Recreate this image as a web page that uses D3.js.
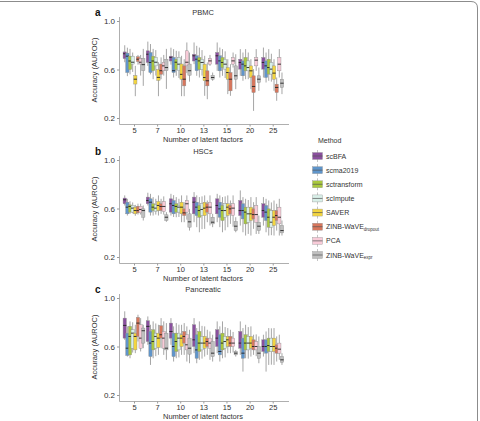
<!DOCTYPE html>
<html><head><meta charset="utf-8">
<script src="https://cdn.jsdelivr.net/npm/d3@7"></script>
<style>body{margin:0;background:#fff}svg{display:block}text{font-family:"Liberation Sans",Arial,sans-serif}</style>
</head><body>
<svg id="c" width="480" height="421"></svg>
<script>
const methods = ["scBFA","scma2019","sctransform","scImpute","SAVER","ZINB-WaVE_dropout","PCA","ZINB-WaVE_expr"];
const colors = ["#8a4f9e","#5f95cb","#a9c83d","#d8efe8","#f3d540","#d7765c","#f8cbd8","#bfbfbf"];
const factors = ["5","7","10","13","15","20","25"];
const yTicks = [0.2, 0.6, 1.0];
const panelTitles = ["PBMC","HSCs","Pancreatic"];
const panelLetters = ["a","b","c"];

// each entry: [lower whisker, q1, median, q3, upper whisker] per number of latent factors
const pbmc_scBFA = [[0.66,0.69,0.73,0.745,0.80],[0.63,0.658,0.726,0.754,0.83],[0.64,0.67,0.70,0.71,0.78],[0.644,0.67,0.713,0.726,0.823],[0.589,0.644,0.713,0.74,0.823],[0.548,0.603,0.658,0.685,0.768],[0.534,0.603,0.658,0.699,0.781]];
const pbmc_scma = [[0.545,0.575,0.71,0.735,0.78],[0.56,0.575,0.658,0.74,0.81],[0.534,0.575,0.59,0.70,0.768],[0.548,0.59,0.685,0.713,0.795],[0.534,0.589,0.671,0.713,0.781],[0.507,0.548,0.644,0.671,0.74],[0.493,0.534,0.63,0.671,0.74]];
const pbmc_sctransform = [[0.56,0.60,0.67,0.71,0.77],[0.52,0.59,0.67,0.71,0.77],[0.548,0.60,0.66,0.685,0.754],[0.534,0.60,0.671,0.699,0.781],[0.548,0.616,0.658,0.699,0.768],[0.52,0.589,0.63,0.699,0.768],[0.507,0.562,0.616,0.685,0.768]];
const pbmc_scImpute = [[0.58,0.645,0.66,0.71,0.74],[0.55,0.63,0.66,0.70,0.76],[0.53,0.59,0.644,0.70,0.75],[0.55,0.60,0.658,0.685,0.76],[0.53,0.603,0.644,0.685,0.75],[0.52,0.589,0.616,0.671,0.74],[0.50,0.562,0.603,0.658,0.73]];
const pbmc_SAVER = [[0.38,0.48,0.52,0.55,0.63],[0.38,0.51,0.535,0.60,0.66],[0.38,0.52,0.56,0.645,0.713],[0.383,0.507,0.534,0.644,0.713],[0.397,0.52,0.575,0.616,0.685],[0.438,0.534,0.589,0.63,0.685],[0.424,0.52,0.57,0.63,0.685]];
const pbmc_dropout = [[0.64,0.665,0.685,0.705,0.72],[0.52,0.56,0.59,0.645,0.70],[0.38,0.465,0.52,0.63,0.685],[0.355,0.465,0.507,0.589,0.658],[0.383,0.424,0.52,0.575,0.644],[0.259,0.41,0.46,0.548,0.603],[0.342,0.41,0.452,0.479,0.534]];
const pbmc_PCA = [[0.55,0.645,0.66,0.69,0.72],[0.55,0.59,0.63,0.66,0.72],[0.57,0.63,0.66,0.754,0.823],[0.63,0.644,0.671,0.691,0.72],[0.616,0.644,0.671,0.699,0.74],[0.589,0.63,0.677,0.699,0.768],[0.534,0.589,0.644,0.699,0.768]];
const pbmc_expr = [[0.465,0.59,0.64,0.69,0.77],[0.44,0.59,0.616,0.685,0.77],[0.50,0.553,0.59,0.645,0.74],[0.507,0.52,0.534,0.553,0.575],[0.438,0.52,0.548,0.63,0.726],[0.424,0.493,0.52,0.548,0.616],[0.397,0.452,0.487,0.52,0.575]];

const hsc_scBFA = [[0.625,0.639,0.672,0.686,0.708],[0.625,0.639,0.666,0.694,0.73],[0.542,0.57,0.639,0.68,0.721],[0.487,0.556,0.652,0.694,0.735],[0.487,0.556,0.625,0.68,0.721],[0.459,0.542,0.583,0.666,0.749],[0.459,0.528,0.583,0.639,0.694]];
const hsc_scma = [[0.542,0.556,0.611,0.652,0.68],[0.542,0.57,0.652,0.68,0.721],[0.53,0.556,0.625,0.666,0.71],[0.446,0.542,0.611,0.652,0.708],[0.446,0.528,0.597,0.652,0.708],[0.404,0.514,0.583,0.639,0.694],[0.404,0.501,0.57,0.625,0.68]];
const hsc_sctransform = [[0.556,0.57,0.617,0.63,0.66],[0.542,0.583,0.611,0.639,0.694],[0.528,0.57,0.617,0.639,0.694],[0.404,0.528,0.583,0.625,0.694],[0.404,0.501,0.583,0.625,0.694],[0.377,0.473,0.57,0.611,0.68],[0.377,0.446,0.528,0.597,0.666]];
const hsc_scImpute = [[0.56,0.57,0.603,0.625,0.65],[0.55,0.575,0.603,0.63,0.68],[0.53,0.57,0.611,0.625,0.68],[0.43,0.542,0.592,0.639,0.70],[0.42,0.528,0.583,0.639,0.70],[0.39,0.487,0.556,0.611,0.67],[0.38,0.446,0.487,0.583,0.65]];
const hsc_SAVER = [[0.54,0.556,0.583,0.611,0.63],[0.542,0.583,0.625,0.658,0.708],[0.487,0.556,0.611,0.652,0.708],[0.432,0.542,0.603,0.652,0.708],[0.446,0.542,0.611,0.639,0.708],[0.377,0.501,0.556,0.611,0.694],[0.377,0.459,0.528,0.583,0.666]];
const hsc_dropout = [[0.55,0.564,0.583,0.619,0.64],[0.556,0.583,0.617,0.639,0.68],[0.487,0.542,0.564,0.597,0.652],[0.487,0.57,0.611,0.639,0.666],[0.473,0.556,0.597,0.625,0.666],[0.432,0.514,0.55,0.597,0.652],[0.418,0.501,0.542,0.583,0.639]];
const hsc_PCA = [[0.55,0.564,0.592,0.619,0.64],[0.55,0.575,0.617,0.658,0.70],[0.508,0.57,0.639,0.666,0.708],[0.46,0.556,0.611,0.652,0.708],[0.45,0.542,0.603,0.639,0.708],[0.39,0.487,0.55,0.625,0.694],[0.377,0.473,0.528,0.611,0.68]];
const hsc_expr = [[0.501,0.528,0.583,0.597,0.625],[0.49,0.501,0.528,0.548,0.57],[0.418,0.446,0.49,0.556,0.597],[0.446,0.473,0.487,0.528,0.556],[0.404,0.418,0.454,0.492,0.528],[0.39,0.418,0.454,0.487,0.542],[0.377,0.399,0.418,0.459,0.501]];

const panc_scBFA = [[0.655,0.669,0.774,0.834,0.89],[0.614,0.641,0.766,0.812,0.848],[0.614,0.669,0.724,0.793,0.834],[0.545,0.60,0.655,0.779,0.834],[0.545,0.60,0.669,0.738,0.807],[0.531,0.586,0.628,0.724,0.807],[0.517,0.559,0.60,0.655,0.697]];
const panc_scma = [[0.517,0.526,0.586,0.71,0.766],[0.448,0.517,0.628,0.724,0.779],[0.476,0.517,0.60,0.71,0.766],[0.462,0.503,0.572,0.697,0.752],[0.476,0.531,0.559,0.697,0.766],[0.393,0.503,0.545,0.669,0.752],[0.393,0.545,0.60,0.655,0.724]];
const panc_sctransform = [[0.503,0.531,0.683,0.766,0.807],[0.503,0.572,0.641,0.738,0.807],[0.503,0.559,0.641,0.71,0.793],[0.49,0.559,0.628,0.724,0.807],[0.503,0.572,0.628,0.71,0.807],[0.503,0.572,0.628,0.697,0.779],[0.448,0.559,0.608,0.669,0.752]];
const panc_scImpute = [[0.55,0.586,0.71,0.738,0.80],[0.52,0.586,0.683,0.71,0.79],[0.51,0.572,0.669,0.71,0.78],[0.50,0.572,0.628,0.683,0.77],[0.51,0.586,0.641,0.683,0.76],[0.50,0.572,0.628,0.683,0.76],[0.45,0.559,0.60,0.669,0.75]];
const panc_SAVER = [[0.545,0.572,0.683,0.71,0.779],[0.531,0.592,0.669,0.71,0.779],[0.531,0.60,0.669,0.697,0.779],[0.517,0.586,0.628,0.683,0.766],[0.545,0.60,0.655,0.683,0.752],[0.517,0.586,0.628,0.683,0.766],[0.448,0.559,0.60,0.669,0.752]];
const panc_dropout = [[0.641,0.683,0.793,0.84,0.862],[0.586,0.669,0.697,0.771,0.834],[0.531,0.628,0.683,0.724,0.793],[0.531,0.60,0.641,0.669,0.738],[0.545,0.60,0.628,0.683,0.738],[0.531,0.572,0.60,0.655,0.697],[0.476,0.545,0.586,0.614,0.683]];
const panc_PCA = [[0.559,0.586,0.669,0.779,0.834],[0.531,0.586,0.669,0.724,0.807],[0.476,0.572,0.614,0.697,0.766],[0.49,0.586,0.628,0.669,0.724],[0.55,0.60,0.628,0.669,0.72],[0.52,0.572,0.60,0.641,0.70],[0.49,0.545,0.578,0.628,0.697]];
const panc_expr = [[0.586,0.628,0.73,0.752,0.779],[0.49,0.572,0.586,0.71,0.793],[0.462,0.537,0.586,0.669,0.738],[0.476,0.517,0.545,0.641,0.697],[0.517,0.531,0.545,0.559,0.572],[0.462,0.503,0.545,0.60,0.683],[0.448,0.47,0.49,0.517,0.545]];

const panels = [
  [pbmc_scBFA,pbmc_scma,pbmc_sctransform,pbmc_scImpute,pbmc_SAVER,pbmc_dropout,pbmc_PCA,pbmc_expr],
  [hsc_scBFA,hsc_scma,hsc_sctransform,hsc_scImpute,hsc_SAVER,hsc_dropout,hsc_PCA,hsc_expr],
  [panc_scBFA,panc_scma,panc_sctransform,panc_scImpute,panc_SAVER,panc_dropout,panc_PCA,panc_expr]
];

const svg = d3.select("#c");
// figure frame (top + right edges)
svg.append("path").attr("d","M0,1.5 H471 Q477.5,1.5 477.5,8 V421")
  .attr("fill","none").attr("stroke","#8c8c8c").attr("stroke-width",1);

const offsets = [0, 139, 277];
const x = d3.scalePoint().domain(factors).range([134, 272.7]);
const inner = d3.scaleBand().domain(methods).range([-10.6, 10.6]);
const boxW = 3.3;
const axisCol = "#9a9a9a";

panels.forEach((pdata, pi) => {
  const off = offsets[pi];
  const y = d3.scaleLinear().domain([0.2, 1.0]).range([118 + off, 21 + off]);
  const g = svg.append("g");

  // axis lines
  g.append("line").attr("x1",119.5).attr("x2",119.5).attr("y1",17+off).attr("y2",124.5+off).attr("stroke",axisCol).attr("stroke-width",0.8);
  g.append("line").attr("x1",119.5).attr("x2",289).attr("y1",124.5+off).attr("y2",124.5+off).attr("stroke",axisCol).attr("stroke-width",0.8);

  const yAxis = d3.axisLeft(y).tickValues(yTicks).tickFormat(d3.format(".1f")).tickSize(2.5).tickPadding(2);
  const ya = g.append("g").attr("transform","translate(119.5,0)").call(yAxis);
  ya.select(".domain").remove();
  ya.selectAll("line").attr("stroke",axisCol);
  ya.selectAll("text").attr("font-size",8).attr("fill","#333").attr("font-family","Liberation Sans, Arial, sans-serif");

  const xAxis = d3.axisBottom(x).tickSize(2).tickPadding(1);
  const xa = g.append("g").attr("transform",`translate(0,${124.5+off})`).call(xAxis);
  xa.select(".domain").remove();
  xa.selectAll("line").attr("stroke",axisCol);
  xa.selectAll("text").attr("font-size",7.5).attr("fill","#333").attr("font-family","Liberation Sans, Arial, sans-serif");

  // titles
  g.append("text").attr("x",203).attr("y",15+off).attr("text-anchor","middle").attr("font-size",7.5).attr("fill","#333").text(panelTitles[pi]);
  g.append("text").attr("x",95).attr("y",16+off).attr("font-size",10).attr("font-weight","bold").attr("fill","#111").text(panelLetters[pi]);
  g.append("text").attr("x",203).attr("y",142+off).attr("text-anchor","middle").attr("font-size",7.5).attr("fill","#333").text("Number of latent factors");
  g.append("text").attr("transform",`translate(97,${70+off}) rotate(-90)`).attr("text-anchor","middle").attr("font-size",7.5).attr("fill","#333").text("Accuracy  (AUROC)");

  // boxes
  factors.forEach((f, fi) => {
    methods.forEach((m, mi) => {
      const s = pdata[mi][fi];
      const cx = x(f) + inner(m) + inner.bandwidth()/2;
      g.append("line").attr("x1",cx).attr("x2",cx).attr("y1",y(s[0])).attr("y2",y(s[4]))
        .attr("stroke","#8f8f8f").attr("stroke-width",0.8);
      g.append("rect").attr("x",cx-boxW/2).attr("width",boxW)
        .attr("y",y(s[3])).attr("height",y(s[1])-y(s[3]))
        .attr("fill",colors[mi]).attr("stroke","#8a8a8a").attr("stroke-width",0.4);
      g.append("line").attr("x1",cx-boxW/2).attr("x2",cx+boxW/2).attr("y1",y(s[2])).attr("y2",y(s[2]))
        .attr("stroke","#222").attr("stroke-width",0.9);
    });
  });
});

// legend
const lg = svg.append("g");
lg.append("text").attr("x",318).attr("y",142.5).attr("font-size",7).attr("fill","#333").text("Method");
const ly = d3.scalePoint().domain(methods).range([156, 255]);
methods.forEach((m, i) => {
  const cy = ly(m);
  lg.append("line").attr("x1",317.5).attr("x2",317.5).attr("y1",cy-6).attr("y2",cy+6).attr("stroke","#aaa").attr("stroke-width",0.7);
  lg.append("rect").attr("x",312.5).attr("y",cy-3.5).attr("width",10).attr("height",7).attr("fill",colors[i]).attr("stroke","#999").attr("stroke-width",0.4);
  lg.append("line").attr("x1",312.5).attr("x2",322.5).attr("y1",cy).attr("y2",cy).attr("stroke","#555").attr("stroke-width",0.7);
  const t = lg.append("text").attr("x",326).attr("y",cy+2.5).attr("font-size",7).attr("fill","#333");
  if (m.indexOf("_") > 0) {
    const [base, sub] = m.split("_");
    t.append("tspan").text(base);
    t.append("tspan").attr("font-size",4.5).attr("dy",1.8).text(sub);
  } else t.text(m);
});
</script>
</body></html>
